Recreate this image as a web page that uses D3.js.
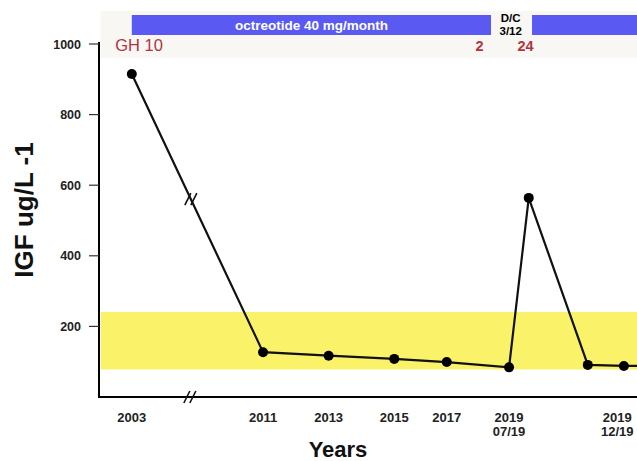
<!DOCTYPE html>
<html><head><meta charset="utf-8">
<script src="https://cdn.jsdelivr.net/npm/d3@7"></script>
<style>body{margin:0;background:#fff;font-family:Arial,"Liberation Sans",sans-serif;}</style>
</head><body><svg id="c" width="637" height="461"></svg>
<script>
// timeline position (arbitrary year-like units, axis broken between 2003 and 2011)
const positions = [1, 5, 7, 9, 10.6, 12.5, 13.1, 14.9, 16.0, 16.4];
const igf = [915, 127, 117, 108, 99, 84, 564, 91, 88, 88];
const tickPos = [1, 5, 7, 9, 10.6, 12.5, 15.8];
const tickLabels = [["2003"], ["2011"], ["2013"], ["2015"], ["2017"], ["2019", "07/19"], ["2019", "12/19"]];
const yTicks = [200, 400, 600, 800, 1000];
const normalRange = [78, 241];
const breakPos = 2.8;
const treatStart = 1, treatEnd = 11.95, resumeStart = 13.2;
const ghLabels = [{p: 1.22, t: "GH 10", bold: false}, {p: 11.6, t: "2", bold: true}, {p: 13.0, t: "24", bold: true}];

const svg = d3.select("#c");
const x = d3.scaleLinear().domain([0, 16.4]).range([99, 637]);
const y = d3.scaleLinear().domain([0, 1000]).range([397, 44]);

// top annotation background
svg.append("rect").attr("x", x(0.05)).attr("y", 11).attr("width", 637 - x(0.05)).attr("height", 47).attr("fill", "#f9f7f3");
const blue = "#5a5af2";
svg.append("rect").attr("x", x(treatStart)).attr("y", 15).attr("width", x(treatEnd) - x(treatStart)).attr("height", 20).attr("fill", blue);
svg.append("rect").attr("x", x(resumeStart)).attr("y", 15).attr("width", 637 - x(resumeStart)).attr("height", 20).attr("fill", blue);
svg.append("text").attr("x", (x(treatStart) + x(treatEnd)) / 2).attr("y", 29.5).attr("text-anchor", "middle")
  .attr("fill", "#fff").attr("font-weight", "bold").attr("font-size", 13.5).text("octreotide 40 mg/month");
svg.append("text").attr("x", x(12.55)).attr("y", 21.5).attr("text-anchor", "middle").attr("font-weight", "bold").attr("font-size", 11.5).text("D/C");
svg.append("text").attr("x", x(12.55)).attr("y", 34.5).attr("text-anchor", "middle").attr("font-weight", "bold").attr("font-size", 11.5).text("3/12");
ghLabels.forEach(g => {
  svg.append("text").attr("x", x(g.p)).attr("y", 51).attr("text-anchor", "middle").attr("fill", "#b0343f")
    .attr("font-weight", g.bold ? "bold" : "normal").attr("font-size", g.bold ? 14.5 : 16.5).text(g.t);
});

// normal range band
svg.append("rect").attr("x", x(0.05)).attr("y", y(normalRange[1])).attr("width", 637 - x(0.05))
  .attr("height", y(normalRange[0]) - y(normalRange[1])).attr("fill", "#faf268");

// axes
svg.append("line").attr("x1", x(0)).attr("x2", x(0)).attr("y1", y(1000) - 2).attr("y2", 397).attr("stroke", "#000").attr("stroke-width", 2);
svg.append("line").attr("x1", x(0) - 1).attr("x2", 637).attr("y1", 397).attr("y2", 397).attr("stroke", "#000").attr("stroke-width", 2);
yTicks.forEach(t => {
  svg.append("line").attr("x1", x(0) - 10).attr("x2", x(0)).attr("y1", y(t)).attr("y2", y(t)).attr("stroke", "#333").attr("stroke-width", 1.2);
  svg.append("text").attr("x", x(0) - 18).attr("y", y(t) + 4.5).attr("text-anchor", "end")
    .attr("font-weight", "bold").attr("font-size", 12.5).attr("fill", "#222").text(t);
});
tickPos.forEach((p, i) => {
  tickLabels[i].forEach((l, j) => {
    svg.append("text").attr("x", x(p)).attr("y", 422 + j * 14).attr("text-anchor", "middle")
      .attr("font-weight", "bold").attr("font-size", 13).attr("fill", "#222").text(l);
  });
});

// data line
const line = d3.line().x((d, i) => x(positions[i])).y(d => y(d));
svg.append("path").datum(igf).attr("d", line).attr("fill", "none").attr("stroke", "#111").attr("stroke-width", 2.2);
svg.selectAll("circle.pt").data(igf.slice(0, 9)).join("circle")
  .attr("cx", (d, i) => x(positions[i])).attr("cy", d => y(d)).attr("r", 5).attr("fill", "#000");

// break marks
function brk(cx, cy) {
  [-3, 3].forEach(o => {
    svg.append("line").attr("x1", cx + o - 3).attr("y1", cy + 6).attr("x2", cx + o + 3).attr("y2", cy - 6)
      .attr("stroke", "#111").attr("stroke-width", 1.6);
  });
}
const lineAtBreak = igf[0] + (igf[1] - igf[0]) * (breakPos - positions[0]) / (positions[1] - positions[0]);
brk(x(breakPos), y(lineAtBreak));
brk(x(breakPos) - 1, 397);

// titles
svg.append("text").attr("transform", "translate(33," + 210 + ") rotate(-90)").attr("text-anchor", "middle")
  .attr("font-weight", "bold").attr("font-size", 26).attr("fill", "#111").text("IGF ug/L -1");
svg.append("text").attr("x", 338).attr("y", 457).attr("text-anchor", "middle")
  .attr("font-weight", "bold").attr("font-size", 22).attr("fill", "#111").text("Years");
</script></body></html>
